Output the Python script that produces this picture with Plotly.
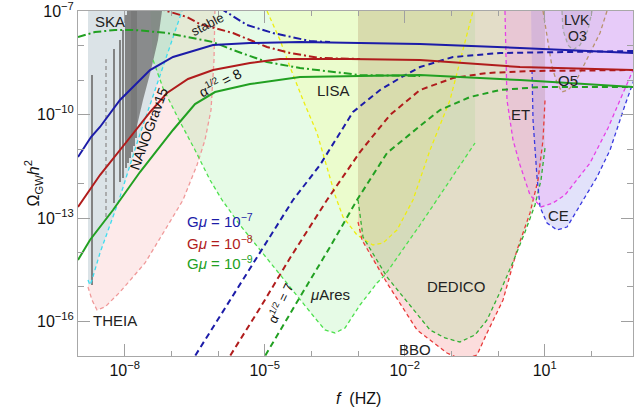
import numpy as np
import plotly.graph_objects as go

# ---------------- data (log10 f [Hz], log10 Omega h^2) ----------------
# cosmic-string spectra (G mu = 1e-7, 1e-8, 1e-9), alpha^1/2 = 8
blue_lf = [-9.0, -8.721, -8.529, -8.10, -7.457, -6.964, -6.107, -5.314, -4.243, -3.172, -1.672, 0.471, 2.913]
blue_lo = [-11.232, -10.652, -10.362, -9.58, -8.71, -8.333, -7.986, -7.928, -7.899, -7.928, -7.957, -8.072, -8.217]
red_lf = [-9.0, -8.529, -7.929, -7.457, -7.093, -6.643, -6.107, -5.314, -4.672, -3.172, -1.672, 0.471, 2.913]
red_lo = [-12.681, -11.754, -10.739, -9.928, -9.377, -8.971, -8.71, -8.507, -8.391, -8.391, -8.42, -8.623, -8.71]
green_lf = [-9.0, -8.743, -8.25, -7.672, -6.964, -6.493, -6.064, -5.314, -4.243, -1.672, 0.471, 2.913]
green_lo = [-14.217, -13.638, -12.768, -11.667, -10.449, -9.696, -9.348, -9.116, -8.913, -8.855, -9.0, -9.203]

# "stable" dash-dot curves
blue_st_lf = [-5.957, -5.379, -4.822, -4.029, -3.60]
blue_st_lo = [-6.913, -7.406, -7.638, -7.87, -7.899]
red_st_lf = [-7.307, -6.664, -6.386, -5.679, -4.95, -4.457, -3.815, -2.958]
red_st_lo = [-6.913, -7.174, -7.377, -7.638, -8.043, -8.217, -8.362, -8.391]
green_st_lf = [-9.0, -8.636, -8.207, -7.779, -7.093, -6.536, -6.107, -5.679, -4.95, -4.243, -2.958, -1.672]
green_st_lo = [-7.754, -7.609, -7.551, -7.551, -7.638, -7.783, -7.899, -8.13, -8.478, -8.652, -8.855, -8.884]

# alpha^1/2 = 7 dashed curves
blue_m_lf = [-6.6, -6.493, -5.743, -5.10, -4.393, -3.815, -3.108, -2.529, -2.10, -1.672, -0.965, 0.043, 2.913]
blue_m_lo = [-17.23, -17.0, -15.377, -14.014, -12.478, -11.464, -9.928, -9.29, -8.942, -8.623, -8.333, -8.217, -8.159]
red_m_lf = [-5.85, -5.743, -5.10, -4.457, -3.665, -2.958, -2.315, -1.672, -0.965, -0.236, 0.685, 2.913]
red_m_lo = [-17.23, -17.0, -15.609, -14.159, -12.478, -11.087, -10.014, -9.29, -8.942, -8.797, -8.739, -8.71]
green_m_lf = [-5.1, -4.993, -4.243, -3.60, -3.022, -2.379, -1.672, -1.243, -0.60, 0.043, 0.90, 2.913]
green_m_lo = [-17.23, -17.0, -15.29, -13.841, -12.478, -11.116, -10.333, -9.87, -9.493, -9.29, -9.203, -9.203]

# detector sensitivity regions
ska_lf = [-8.786, -8.786, -8.743, -8.70, -8.529, -8.314, -8.121, -7.714, -7.243, -6.771, -6.729]
ska_lo = [-6.826, -14.797, -14.942, -14.797, -14.014, -13.203, -12.478, -10.739, -8.855, -7.0, -6.826]

theia_lf = [-8.786, -8.786, -8.70, -8.593, -8.421, -8.10, -7.564, -7.136, -6.75, -6.45, -6.279, -6.15, -6.086, -6.064]
theia_lo = [-6.826, -15.0, -15.377, -15.667, -15.58, -15.145, -14.304, -13.348, -12.478, -11.464, -10.739, -9.87, -8.42, -6.826]

mu_lf = [-7.457, -7.393, -7.179, -6.857, -6.493, -6.171, -5.914, -5.529, -5.10, -4.672, -4.243, -3.922, -3.707,
         -3.493, -3.279, -2.958, -2.593, -2.422, -1.672, -1.029, -0.493, -0.493]
mu_lo = [-6.826, -8.42, -9.232, -10.101, -11.029, -11.899, -12.478, -13.203, -13.928, -14.652, -15.377, -15.899,
         -16.246, -16.333, -16.188, -15.522, -14.884, -14.652, -13.203, -11.899, -10.826, -6.826]

lisa_lf = [-4.993, -4.95, -4.672, -4.457, -4.179, -3.879, -3.643, -3.493, -3.322, -3.022, -2.679, -2.465, -2.165,
           -1.822, -1.457, -1.029, -0.536, -0.515]
lisa_lo = [-6.826, -7.0, -7.841, -8.623, -9.58, -10.536, -11.609, -12.333, -12.971, -13.493, -13.783, -13.725,
           -13.348, -12.478, -11.029, -9.58, -7.0, -6.826]

bbo_lf = [-3.0, -3.0, -2.915, -2.379, -1.736, -1.093, -0.858, -0.644, -0.45, -0.236, 0.107, 0.407, 0.685, 0.857, 0.964, 1.007, 1.007]
bbo_lo = [-6.826, -13.116, -13.638, -14.884, -16.246, -16.913, -17.058, -17.058, -16.971, -16.333, -15.377, -13.928,
          -12.855, -11.899, -10.739, -9.58, -6.826]

dedico_lf = [-3.0, -3.0, -2.893, -2.379, -1.457, -1.136, -0.815, -0.493, -0.236, 0.043, 0.321, 0.578, 0.792, 0.921, 1.007, 1.007]
dedico_lo = [-6.826, -12.478, -13.551, -14.71, -16.246, -16.478, -16.594, -16.391, -15.957, -15.145, -14.275, -13.406,
             -12.623, -11.899, -10.971, -6.826]

et_lf = [0.149, 0.149, 0.192, 0.321, 0.471, 0.685, 0.835, 0.921, 1.178, 1.435, 1.971, 2.357, 2.614, 2.913, 3.47]
et_lo = [-6.826, -7.0, -9.58, -10.739, -11.464, -12.333, -12.565, -12.681, -12.565, -12.333, -11.406, -10.391, -9.58,
         -8.652, -6.826]

ce_lf = [0.707, 0.707, 0.728, 0.75, 0.835, 0.90, 1.05, 1.264, 1.478, 1.692, 2.121, 2.40, 2.55, 2.721, 2.913, 3.363]
ce_lo = [-6.826, -7.0, -8.71, -10.159, -11.812, -12.681, -13.145, -13.348, -13.261, -12.768, -11.812, -11.029,
         -10.391, -9.725, -9.0, -6.826]

o5_lf = [0.964, 0.964, 1.071, 1.157, 1.264, 1.371, 1.499, 1.649, 1.971, 2.185, 2.335, 2.357]
o5_lo = [-6.826, -7.0, -7.841, -8.623, -9.087, -9.348, -9.29, -9.087, -8.217, -7.638, -7.0, -6.826]

o3_lf = [1.371, 1.371, 1.392, 1.499, 1.606, 1.757, 1.928, 2.014, 2.014]
o3_lo = [-6.826, -7.0, -7.551, -7.986, -8.13, -7.986, -7.551, -7.0, -6.826]

# NANOGrav 15 violins (vertical segments)
nano_lf = [-8.70, -8.229, -8.10, -8.036, -7.971, -7.929, -7.886, -7.843, -7.80, -7.757]
nano_top = [-8.855, -8.101, -7.841, -7.551, -7.116, -6.9, -6.9, -6.9, -6.9, -6.9]
nano_bot = [-14.942, -12.565, -11.957, -11.841, -11.551, -11.406, -11.261, -11.087, -10.913, -10.681]
nano_dash_lf = -8.40
nano_dash_lo = [-8.391, -12.971]
nano_blk_lf = [-7.864, -7.20, -7.20, -7.286, -7.436, -7.607, -7.757, -7.864]
nano_blk_lo = [-6.9, -6.9, -7.0, -7.841, -8.71, -9.58, -10.449, -10.739]

x_tick_exp = [-8, -5, -2, 1]
y_tick_exp = [-7, -10, -13, -16]

# ---------------- figure ----------------
P = lambda a: 10 ** np.array(a, dtype=float)
fig = go.Figure()


def region(lf, lo, fillcolor):
    fig.add_trace(go.Scatter(x=P(lf), y=P(lo), mode="lines", fill="toself", fillcolor=fillcolor,
                             line=dict(width=0), hoverinfo="skip"))


def curve(lf, lo, color, width, dash):
    fig.add_trace(go.Scatter(x=P(lf), y=P(lo), mode="lines", line=dict(color=color, width=width, dash=dash),
                             hoverinfo="skip"))


region(theia_lf, theia_lo, "rgba(245,140,140,0.18)")
region(ska_lf, ska_lo, "rgba(205,225,230,0.72)")
region(mu_lf, mu_lo, "rgba(130,235,130,0.2)")
region(lisa_lf, lisa_lo, "rgba(255,255,120,0.22)")
region(bbo_lf, bbo_lo, "rgba(245,120,120,0.25)")
region(dedico_lf, dedico_lo, "rgba(169,221,151,0.3)")
region(ce_lf, ce_lo, "rgba(110,110,230,0.2)")
region(et_lf, et_lo, "rgba(247,137,248,0.25)")
region(o5_lf, o5_lo, "rgba(120,90,120,0.05)")
region(o3_lf, o3_lo, "rgba(100,90,110,0.08)")

# NANOGrav grey violins
fig.add_trace(go.Scatter(x=P(nano_blk_lf), y=P(nano_blk_lo), mode="lines", fill="toself",
                         fillcolor="rgba(105,105,105,0.72)", line=dict(width=0), hoverinfo="skip"))
nx, ny = [], []
for f, t, b in zip(nano_lf, nano_top, nano_bot):
    nx += [10 ** f, 10 ** f, None]
    ny += [10 ** b, 10 ** t, None]
fig.add_trace(go.Scatter(x=nx, y=ny, mode="lines", line=dict(color="rgba(120,120,120,0.9)", width=2),
                         hoverinfo="skip"))
fig.add_trace(go.Scatter(x=[10 ** nano_dash_lf] * 2, y=P(nano_dash_lo), mode="lines",
                         line=dict(color="#9a9a9a", width=1.5, dash="4px,3px"), hoverinfo="skip"))

# detector boundaries
bd = "4px,3px"
curve(ska_lf[1:-1], ska_lo[1:-1], "#3fdcef", 1.3, bd)
curve(theia_lf[1:], theia_lo[1:], "#f09a9a", 1.3, bd)
curve(mu_lf[1:-1], mu_lo[1:-1], "#4ee04e", 1.3, bd)
curve(lisa_lf[1:-1], lisa_lo[1:-1], "#eeee10", 1.3, bd)
curve(bbo_lf[1:-1], bbo_lo[1:-1], "#e83a3a", 1.3, bd)
curve(dedico_lf[1:-1], dedico_lo[1:-1], "#34b034", 1.3, bd)
curve(et_lf[1:-1], et_lo[1:-1], "#e640e6", 1.3, bd)
curve(ce_lf[2:-1], ce_lo[2:-1], "#3a3ae0", 1.3, bd)
curve(o5_lf[1:-1], o5_lo[1:-1], "#b8926c", 1.3, bd)
curve(o3_lf[1:-1], o3_lo[1:-1], "#a8a8a8", 1.3, bd)

# string spectra
BLUE, RED, GREEN = "#1c1ca8", "#b01c1c", "#22a022"
dd = "8px,3px,2px,3px"
curve(blue_st_lf, blue_st_lo, BLUE, 2, dd)
curve(red_st_lf, red_st_lo, RED, 2, dd)
curve(green_st_lf, green_st_lo, GREEN, 2, dd)
md = "6px,4px"
curve(blue_m_lf, blue_m_lo, BLUE, 2, md)
curve(red_m_lf, red_m_lo, RED, 2, md)
curve(green_m_lf, green_m_lo, GREEN, 2, md)
curve(blue_lf, blue_lo, BLUE, 2, "solid")
curve(red_lf, red_lo, RED, 2, "solid")
curve(green_lf, green_lo, GREEN, 2, "solid")

FONT = "Liberation Sans, Arial, sans-serif"
labels = [
    ("SKA", -8.314, -7.29, 15, 0, "#222"),
    ("stable", -6.236, -7.377, 13, -27, "#222"),
    ("NANOGrav15", -7.479, -10.391, 14, -70, "#111"),
    ("α<sup>1/2</sup> = 8", -5.957, -9.058, 14, -27, "#111"),
    ("LISA", -3.515, -9.29, 15, 0, "#222"),
    ("ET", 0.492, -10.014, 15, 0, "#222"),
    ("LVK", 1.692, -7.26, 14, 0, "#222"),
    ("O3", 1.692, -7.73, 14, 0, "#222"),
    ("O5", 1.499, -9.0, 15, 0, "#222"),
    ("CE", 1.285, -12.913, 15, 0, "#222"),
    ("DEDICO", -0.9, -15.0, 15, 0, "#222"),
    ("BBO", -1.779, -16.80, 15, 0, "#222"),
    ("<i>μ</i>Ares", -3.6, -15.232, 15, 0, "#222"),
    ("α<sup>1/2</sup> = 7", -4.672, -15.464, 13, -65, "#111"),
    ("THEIA", -8.207, -15.957, 15, 0, "#222"),
]
ann = []
for t, x, y, s, a, c in labels:
    ann.append(dict(text=t, x=x, y=y, xref="x", yref="y", showarrow=False, textangle=a,
                    font=dict(size=s, color=c, family=FONT), xanchor="center", yanchor="middle"))
leg = [("G<i>μ</i> = 10<sup>−7</sup>", -13.058, BLUE), ("G<i>μ</i> = 10<sup>−8</sup>", -13.696, RED),
       ("G<i>μ</i> = 10<sup>−9</sup>", -14.304, GREEN)]
for t, y, c in leg:
    ann.append(dict(text=t, x=-6.707, y=y, xref="x", yref="y", showarrow=False, xanchor="left",
                    yanchor="middle", font=dict(size=15, color=c, family=FONT)))
PW, PH = 555.0, 345.0
ann.append(dict(text="Ω<sub>GW</sub><i>h</i><sup>2</sup>", x=-58 / PW, y=0.5, xref="paper", yref="paper",
                showarrow=False, textangle=-90, font=dict(size=16, color="#111", family=FONT)))
ann.append(dict(text="<i>f</i>  (HZ)", x=0.505, y=-42 / PH, xref="paper", yref="paper", showarrow=False,
                yanchor="middle", font=dict(size=16, color="#111", family=FONT)))

axis_common = dict(type="log", showgrid=False, zeroline=False, showline=True, linecolor="#a8a8a8",
                   linewidth=1, mirror="ticks", ticks="inside", ticklen=12, tickcolor="#a0a0a0",
                   tickfont=dict(size=16, color="#111", family=FONT), tickmode="array", automargin=False,
                   ticklabeloverflow="allow")
fig.update_layout(
    width=634, height=415, margin=dict(l=78, r=1, t=11, b=59, autoexpand=False),
    paper_bgcolor="white", plot_bgcolor="white", showlegend=False, annotations=ann,
    xaxis=dict(axis_common, range=[-9, 2.892], tickvals=[10.0 ** e for e in x_tick_exp],
               ticktext=["10<sup>" + str(e).replace("-", "−") + "</sup>" for e in x_tick_exp],
               minor=dict(tickvals=[10.0 ** k for k in range(-9, 3)], ticklen=5, ticks="inside",
                          tickcolor="#a0a0a0")),
    yaxis=dict(axis_common, range=[-17.0005, -6.9995], tickvals=[10.0 ** e for e in y_tick_exp],
               ticktext=["10<sup>" + str(e).replace("-", "−") + "</sup>" for e in y_tick_exp],
               minor=dict(tickvals=[10.0 ** k for k in range(-17, -6)], ticklen=6, ticks="inside",
                          tickcolor="#a0a0a0")),
)
# remove the default 8px page margin so the 634x415 figure fills the window exactly
fig.write_html("out.html", config={"displayModeBar": False},
               post_script="document.body.style.margin='0px';")
